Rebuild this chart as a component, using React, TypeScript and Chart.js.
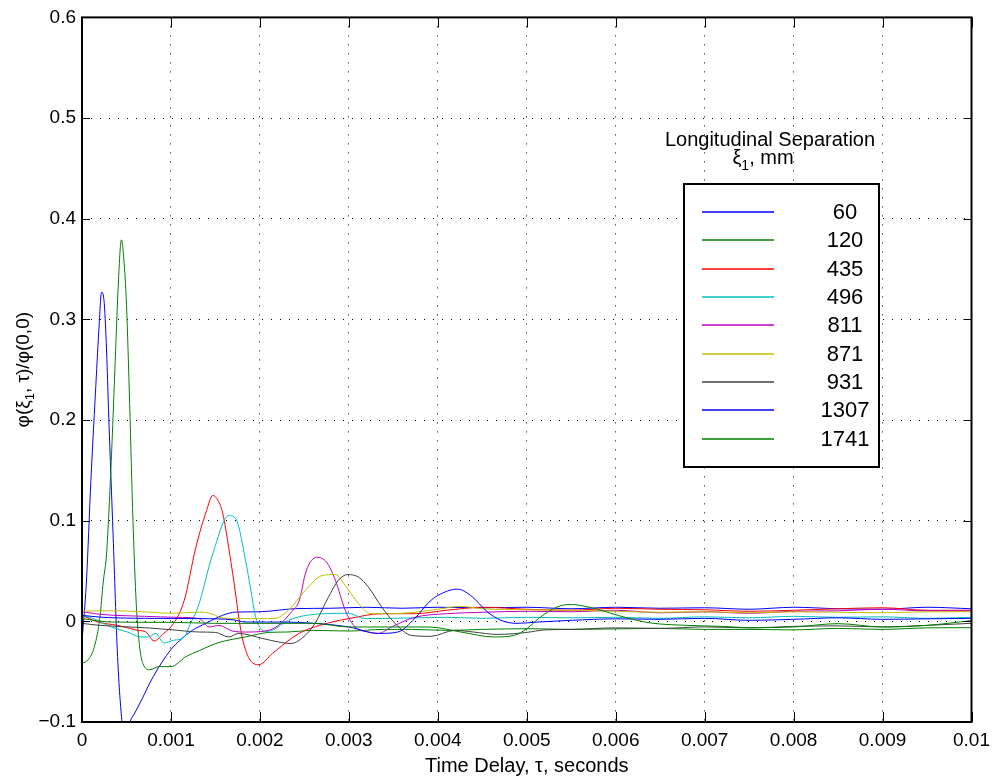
import React, { useEffect, useRef } from 'react';
import { Chart, registerables } from 'chart.js';

Chart.register(...registerables);

const separations = ['60', '120', '435', '496', '811', '871', '931', '1307', '1741'];
const xTickLabels = ['0', '0.001', '0.002', '0.003', '0.004', '0.005', '0.006', '0.007', '0.008', '0.009', '0.01'];
const yTickLabels = ['\u22120.1', '0', '0.1', '0.2', '0.3', '0.4', '0.5', '0.6'];

type P = [number, number];

const s60: P[] = [
  [0, -0.02], [0.00005, 0.04], [0.0001, 0.14], [0.00015, 0.225], [0.00019, 0.29], [0.00022, 0.327],
  [0.00025, 0.316], [0.00028, 0.26], [0.0003, 0.205], [0.00035, 0.085], [0.0004, -0.035], [0.00045, -0.1],
  [0.00049, -0.118], [0.00054, -0.1], [0.0006, -0.09], [0.00067, -0.078], [0.0008, -0.055], [0.001, -0.028],
  [0.0011, -0.019], [0.00124, -0.009], [0.00139, -0.002], [0.00158, 0.006], [0.00173, 0.0092], [0.002, 0.0095],
  [0.0022, 0.011], [0.0024, 0.0126], [0.0028, 0.013], [0.0032, 0.014], [0.0036, 0.013], [0.004, 0.014],
  [0.0045, 0.0135], [0.005, 0.014], [0.0055, 0.0125], [0.006, 0.014], [0.0065, 0.013], [0.007, 0.0135],
  [0.0075, 0.012], [0.008, 0.014], [0.0085, 0.0125], [0.009, 0.012], [0.0095, 0.014], [0.01, 0.0125],
];

const s120: P[] = [
  [0, -0.042], [0.00007, -0.038], [0.00014, -0.025], [0.0002, 0.003], [0.00024, 0.04], [0.000276, 0.067],
  [0.000332, 0.166], [0.000369, 0.2485], [0.000406, 0.331], [0.000443, 0.379], [0.00047, 0.36], [0.0005, 0.315],
  [0.000536, 0.2155], [0.000573, 0.1], [0.00061, 0.0175], [0.000648, -0.0254], [0.000685, -0.042],
  [0.00076, -0.048], [0.00087, -0.045], [0.001, -0.045], [0.00117, -0.035], [0.00132, -0.029], [0.00154, -0.021],
  [0.00184, -0.0155], [0.0021, -0.011], [0.0023, -0.0106], [0.0026, -0.009], [0.003, -0.0096], [0.0034, -0.008],
  [0.0037, -0.008], [0.0041, -0.009], [0.0045, -0.008], [0.005, -0.0073], [0.0055, -0.008], [0.006, -0.0075],
  [0.0065, -0.007], [0.007, -0.008], [0.0075, -0.008], [0.008, -0.0085], [0.0085, -0.007], [0.009, -0.008],
  [0.0095, -0.0065], [0.01, -0.0063],
];

const s435: P[] = [
  [0, 0.006], [0.00018, -0.0007], [0.0004, -0.004], [0.00063, -0.009], [0.00072, -0.0106], [0.00081, -0.0195],
  [0.00092, -0.012], [0.00103, -0.002], [0.00115, 0.021], [0.00128, 0.0736], [0.0014, 0.11], [0.00147, 0.125],
  [0.00153, 0.12], [0.00158, 0.108], [0.00169, 0.05], [0.0018, -0.0155], [0.00193, -0.042], [0.00199, -0.043],
  [0.00214, -0.032], [0.00244, -0.012], [0.00281, -0.0007], [0.003, 0.0027], [0.00337, 0.0076], [0.00374, 0.0076],
  [0.0041, 0.011], [0.0045, 0.014], [0.005, 0.012], [0.0055, 0.011], [0.006, 0.013], [0.0065, 0.012],
  [0.007, 0.0115], [0.0075, 0.01], [0.008, 0.011], [0.0085, 0.0125], [0.009, 0.0135], [0.0095, 0.011], [0.01, 0.011],
];

const s496: P[] = [
  [0, 0.006], [0.00012, 0.003], [0.00033, -0.0056], [0.00051, -0.0106], [0.00066, -0.0155], [0.00074, -0.0155],
  [0.00083, -0.012], [0.00092, -0.0215], [0.00103, -0.0188], [0.00115, -0.0155], [0.00122, -0.002], [0.0013, 0.013],
  [0.00147, 0.067], [0.00165, 0.105], [0.00173, 0.1017], [0.00184, 0.06], [0.0019, 0.03], [0.00195, 0.005],
  [0.002, -0.006], [0.00207, -0.01], [0.00214, -0.009], [0.00232, 0.001], [0.00262, 0.007], [0.003, 0.008],
  [0.00318, 0.0027], [0.0035, 0.003], [0.0041, 0.004], [0.0045, 0.003], [0.005, 0.004], [0.0055, 0.0035],
  [0.006, 0.004], [0.0065, 0.003], [0.007, 0.0045], [0.0075, 0.0035], [0.008, 0.005], [0.0085, 0.004],
  [0.009, 0.0045], [0.0095, 0.003], [0.01, 0.004],
];

const s811: P[] = [
  [0, 0.0096], [0.0001, 0.0083], [0.0002, 0.007], [0.0007, 0.005], [0.00107, 0.004], [0.00132, 0.0027],
  [0.00143, -0.0056], [0.00154, -0.004], [0.00169, -0.0096], [0.00184, -0.0106], [0.00206, -0.0096],
  [0.00221, -0.004], [0.00236, 0.01], [0.00244, 0.02], [0.00252, 0.05], [0.00264, 0.0637], [0.00275, 0.0587],
  [0.00285, 0.0406], [0.00296, 0.011], [0.00307, -0.0056], [0.00322, -0.0106], [0.00333, -0.012],
  [0.00348, -0.0056], [0.00374, 0.004], [0.0041, 0.0076], [0.0045, 0.009], [0.005, 0.01], [0.0055, 0.0095],
  [0.006, 0.011], [0.0065, 0.0085], [0.007, 0.0095], [0.0075, 0.008], [0.008, 0.01], [0.0085, 0.0105],
  [0.009, 0.012], [0.0095, 0.0105], [0.01, 0.0105],
];

const s871: P[] = [
  [0, 0.0102], [0.0003, 0.0105], [0.0007, 0.0095], [0.001, 0.008], [0.00135, 0.0092], [0.0015, 0.006],
  [0.00154, 0.004], [0.00173, 0.0027], [0.002, 0.0027], [0.00217, 0.003], [0.00232, 0.011], [0.00251, 0.0307],
  [0.0027, 0.0455], [0.00285, 0.0465], [0.00296, 0.0356], [0.00311, 0.0175], [0.00325, 0.0076], [0.00344, 0.0076],
  [0.0037, 0.0086], [0.004, 0.012], [0.00426, 0.0149], [0.0045, 0.0125], [0.005, 0.0115], [0.0055, 0.011],
  [0.006, 0.01], [0.0065, 0.009], [0.007, 0.0095], [0.0075, 0.0085], [0.008, 0.0095], [0.0085, 0.009],
  [0.009, 0.0085], [0.0095, 0.0095], [0.01, 0.0095],
];

const s931: P[] = [
  [0, -0.002], [0.0002, -0.004], [0.0007, -0.0063], [0.001, -0.0083], [0.00132, -0.0106], [0.0015, -0.011],
  [0.00165, -0.0155], [0.00176, -0.012], [0.00203, -0.017], [0.00221, -0.0205], [0.00235, -0.022],
  [0.00247, -0.017], [0.00262, -0.002], [0.00277, 0.024], [0.00288, 0.0406], [0.00299, 0.0465], [0.00311, 0.0439],
  [0.00322, 0.034], [0.00337, 0.0142], [0.00352, -0.002], [0.0037, -0.0139], [0.00392, -0.0149], [0.00419, -0.009],
  [0.0044, -0.0106], [0.00467, -0.013], [0.005, -0.011], [0.0052, -0.0085], [0.0055, -0.008], [0.006, -0.0065],
  [0.0065, -0.007], [0.007, -0.0055], [0.0075, -0.0065], [0.008, -0.005], [0.0085, -0.0045], [0.009, -0.0055],
  [0.0095, -0.004], [0.01, -0.002],
];

const s1307: P[] = [
  [0, 0.006], [0.0001, 0.005], [0.0003, 0.0037], [0.0007, 0.003], [0.00135, 0.0027], [0.0017, 0.0015],
  [0.00184, -0.0007], [0.00225, -0.0007], [0.00262, -0.002], [0.003, -0.0056], [0.00333, -0.012],
  [0.00355, -0.0106], [0.00374, 0.0027], [0.0039, 0.019], [0.004, 0.0257], [0.00422, 0.032], [0.00437, 0.0257],
  [0.00456, 0.0092], [0.00471, 0.001], [0.00489, -0.002], [0.00512, -0.0007], [0.0055, 0.001], [0.006, 0.0025],
  [0.0065, 0.002], [0.007, 0.003], [0.0075, 0.001], [0.008, 0.002], [0.0085, 0.0035], [0.009, 0.002],
  [0.0095, 0.0025], [0.01, 0.003],
];

const s1741: P[] = [
  [0, 0.0027], [0.00033, -0.0007], [0.001, -0.001], [0.0015, -0.002], [0.002, -0.002], [0.0026, -0.002],
  [0.003, -0.0056], [0.0035, -0.0056], [0.0039, -0.0056], [0.00426, -0.0106], [0.00463, -0.0155],
  [0.00486, -0.0139], [0.005, -0.0073], [0.00515, 0.004], [0.00534, 0.0142], [0.00549, 0.0168], [0.00564, 0.0152],
  [0.0058, 0.0119], [0.0059, 0.0092], [0.00616, 0.0027], [0.0064, -0.0017], [0.0068, -0.004], [0.0072, -0.005],
  [0.0075, -0.0063], [0.008, -0.0056], [0.0085, -0.0023], [0.009, -0.0056], [0.0095, -0.004], [0.01, 0.0007],
];

const seriesValues: P[][] = [s60, s120, s435, s496, s811, s871, s931, s1307, s1741];
const lineColors = ['#0000ff', '#008000', '#ff0000', '#00bfbf', '#bf00bf', '#bfbf00', '#404040', '#0000ff', '#008000'];

const FONT = '"Liberation Sans", Arial, Helvetica, sans-serif';

function drawRich(ctx: CanvasRenderingContext2D, parts: { t: string; sub?: boolean }[], size: number, cx: number, baseY: number) {
  const widths = parts.map((p) => {
    ctx.font = `${p.sub ? Math.round(size * 0.7) : size}px ${FONT}`;
    return ctx.measureText(p.t).width;
  });
  const total = widths.reduce((a, b) => a + b, 0);
  let x = cx - total / 2;
  ctx.textAlign = 'left';
  ctx.textBaseline = 'alphabetic';
  parts.forEach((p, i) => {
    ctx.font = `${p.sub ? Math.round(size * 0.7) : size}px ${FONT}`;
    ctx.fillText(p.t, x, baseY + (p.sub ? size * 0.28 : 0));
    x += widths[i];
  });
}

const decorPlugin = {
  id: 'decor',
  afterDatasetsDraw(chart: any) {
    const { ctx, chartArea: a, scales } = chart;
    ctx.save();
    ctx.strokeStyle = '#000';
    ctx.fillStyle = '#000';
    // inward tick marks
    ctx.lineWidth = 1;
    ctx.beginPath();
    scales.x.ticks.forEach((t: any) => {
      const px = Math.round(scales.x.getPixelForValue(t.value)) + 0.5;
      ctx.moveTo(px, a.bottom); ctx.lineTo(px, a.bottom - 10);
      ctx.moveTo(px, a.top); ctx.lineTo(px, a.top + 10);
    });
    scales.y.ticks.forEach((t: any) => {
      const py = Math.round(scales.y.getPixelForValue(t.value)) + 0.5;
      ctx.moveTo(a.left, py); ctx.lineTo(a.left + 8, py);
      ctx.moveTo(a.right, py); ctx.lineTo(a.right - 8, py);
    });
    ctx.stroke();
    // axes box
    ctx.lineWidth = 2;
    ctx.strokeRect(a.left, a.top, a.right - a.left, a.bottom - a.top);

    // legend title
    ctx.fillStyle = '#000';
    drawRich(ctx, [{ t: 'Longitudinal Separation' }], 20, 770, 146);
    drawRich(ctx, [{ t: '\u03be' }, { t: '1', sub: true }, { t: ', mm' }], 20, 763, 164);

    // legend box
    const lx = 684, ly = 184, lw = 195, lh = 283;
    ctx.fillStyle = '#fff';
    ctx.fillRect(lx, ly, lw, lh);
    ctx.lineWidth = 2;
    ctx.strokeStyle = '#000';
    ctx.strokeRect(lx, ly, lw, lh);
    chart.data.datasets.forEach((ds: any, i: number) => {
      const y = Math.round(212 + i * 28.33);
      ctx.strokeStyle = lineColors[i];
      ctx.lineWidth = 1.5;
      ctx.beginPath();
      ctx.moveTo(702, y);
      ctx.lineTo(774, y);
      ctx.stroke();
      ctx.fillStyle = '#000';
      ctx.font = `22px ${FONT}`;
      ctx.textAlign = 'center';
      ctx.textBaseline = 'middle';
      ctx.fillText(ds.label, 845, y + 1);
    });

    // axis titles
    ctx.fillStyle = '#000';
    drawRich(ctx, [{ t: 'Time Delay, \u03c4, seconds' }], 20, (a.left + a.right) / 2, 771.5);
    ctx.translate(29, (a.top + a.bottom) / 2);
    ctx.rotate(-Math.PI / 2);
    drawRich(ctx, [{ t: '\u03c6(\u03be' }, { t: '1', sub: true }, { t: ', \u03c4)/\u03c6(0,0)' }], 19, 0, 0);
    ctx.restore();
  },
};

export default function App() {
  const ref = useRef<HTMLCanvasElement | null>(null);
  useEffect(() => {
    if (!ref.current) return;
    const n = seriesValues.length;
    const chart = new Chart(ref.current, {
      type: 'line',
      data: {
        datasets: seriesValues.map((vals, i) => ({
          label: separations[i],
          data: vals.map(([x, y]) => ({ x, y })),
          borderColor: lineColors[i],
          backgroundColor: lineColors[i],
          borderWidth: 1,
          pointRadius: 0,
          fill: false,
          cubicInterpolationMode: 'monotone' as const,
          order: n - i,
        })),
      },
      options: {
        responsive: false,
        animation: false,
        events: [],
        layout: { padding: { top: 15, right: 20, left: 0, bottom: 0 } },
        plugins: {
          legend: { display: false },
          tooltip: { enabled: false },
          title: { display: false },
        },
        scales: {
          x: {
            type: 'linear',
            min: 0,
            max: 0.01,
            ticks: {
              stepSize: 0.001,
              autoSkip: false,
              maxRotation: 0,
              padding: 7,
              color: '#000',
              font: { family: FONT, size: 19 },
              callback: (_v: any, i: number) => xTickLabels[i],
            },
            grid: { color: '#000', drawTicks: false, lineWidth: 1 },
            border: { display: false, dash: [1, 8] },
            afterFit: (s: any) => { s.height = 57; },
          },
          y: {
            type: 'linear',
            min: -0.1,
            max: 0.6,
            ticks: {
              stepSize: 0.1,
              autoSkip: false,
              padding: 6,
              color: '#000',
              font: { family: FONT, size: 19 },
              callback: (_v: any, i: number) => yTickLabels[i],
            },
            grid: { color: '#000', drawTicks: false, lineWidth: 1 },
            border: { display: false, dash: [1, 8] },
            afterFit: (s: any) => { s.width = 82; },
          },
        },
      },
      plugins: [decorPlugin],
    } as any);
    return () => chart.destroy();
  }, []);
  return (
    <div style={{ position: 'fixed', left: 0, top: 0, width: 997, height: 779, background: '#fff' }}>
      <canvas ref={ref} width={997} height={779} style={{ display: 'block' }} />
    </div>
  );
}
